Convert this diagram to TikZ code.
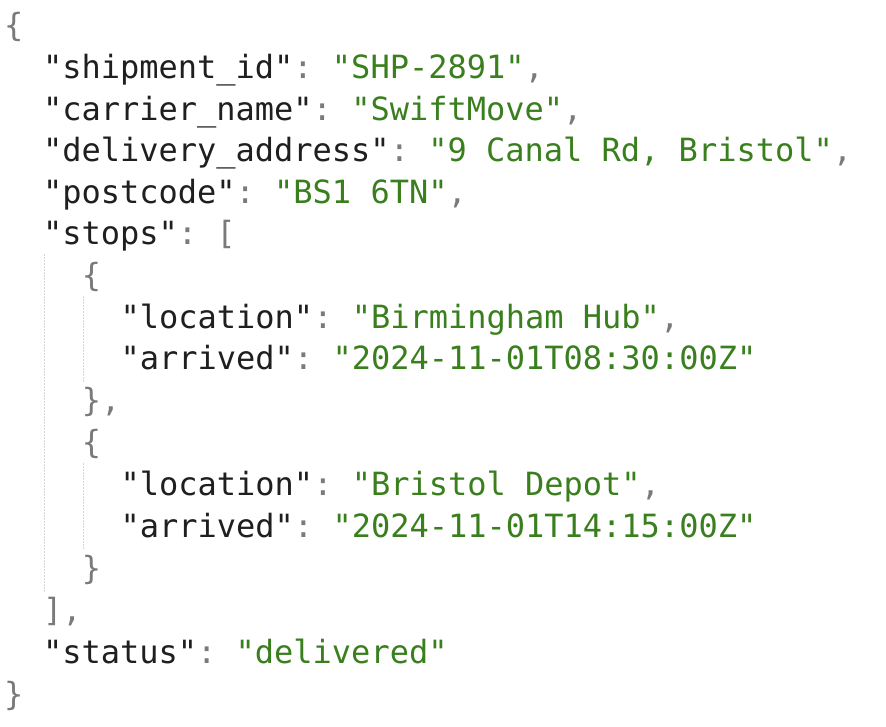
\documentclass[tikz,border=0pt]{standalone}
\usepackage{fontspec}
\setmonofont{DejaVu Sans Mono}
\definecolor{keycol}{HTML}{1F1F1F}
\definecolor{strcol}{HTML}{3A7F1E}
\definecolor{puncol}{HTML}{7A7A7A}
\definecolor{guidecol}{HTML}{D6D6D6}
\newcommand{\jkey}[1]{\textcolor{keycol}{"#1"}}
\newcommand{\jstr}[1]{\textcolor{strcol}{"#1"}}
\newcommand{\jp}[1]{\textcolor{puncol}{#1}}
\begin{document}
\begin{tikzpicture}[x=1pt,y=1pt,
    codeline/.style={anchor=base west, inner sep=0pt, font=\ttfamily\fontsize{32}{38}\selectfont},
    guide/.style={guidecol, line width=1pt, dash pattern=on 1.5pt off 1.5pt}
  ]
  \useasboundingbox[fill=white] (0,0) rectangle (886,-726);
  % ---- listing lines ----
  \def\cw{19.4}
  \node[codeline] (l1)  at (4+0*\cw,-36)  {\jp{\{}};
  \node[codeline] (l2)  at (4+2*\cw,-78)  {\jkey{shipment\_id}\jp{:} \jstr{SHP-2891}\jp{,}};
  \node[codeline] (l3)  at (4+2*\cw,-120) {\jkey{carrier\_name}\jp{:} \jstr{SwiftMove}\jp{,}};
  \node[codeline] (l4)  at (4+2*\cw,-161) {\jkey{delivery\_address}\jp{:} \jstr{9 Canal Rd, Bristol}\jp{,}};
  \node[codeline] (l5)  at (4+2*\cw,-203) {\jkey{postcode}\jp{:} \jstr{BS1 6TN}\jp{,}};
  \node[codeline] (l6)  at (4+2*\cw,-244) {\jkey{stops}\jp{: [}};
  \node[codeline] (l7)  at (4+4*\cw,-286) {\jp{\{}};
  \node[codeline] (l8)  at (4+6*\cw,-328) {\jkey{location}\jp{:} \jstr{Birmingham Hub}\jp{,}};
  \node[codeline] (l9)  at (4+6*\cw,-369) {\jkey{arrived}\jp{:} \jstr{2024-11-01T08:30:00Z}};
  \node[codeline] (l10) at (4+4*\cw,-411) {\jp{\},}};
  \node[codeline] (l11) at (4+4*\cw,-453) {\jp{\{}};
  \node[codeline] (l12) at (4+6*\cw,-495) {\jkey{location}\jp{:} \jstr{Bristol Depot}\jp{,}};
  \node[codeline] (l13) at (4+6*\cw,-537) {\jkey{arrived}\jp{:} \jstr{2024-11-01T14:15:00Z}};
  \node[codeline] (l14) at (4+4*\cw,-579) {\jp{\}}};
  \node[codeline] (l15) at (4+2*\cw,-621) {\jp{],}};
  \node[codeline] (l16) at (4+2*\cw,-663) {\jkey{status}\jp{:} \jstr{delivered}};
  \node[codeline] (l17) at (4+0*\cw,-705) {\jp{\}}};
  % ---- indent guides ----
  \draw[guide] (44,-254) -- (44,-592);
  \draw[guide] (83,-296) -- (83,-382);
  \draw[guide] (83,-463) -- (83,-550);
\end{tikzpicture}
\end{document}
